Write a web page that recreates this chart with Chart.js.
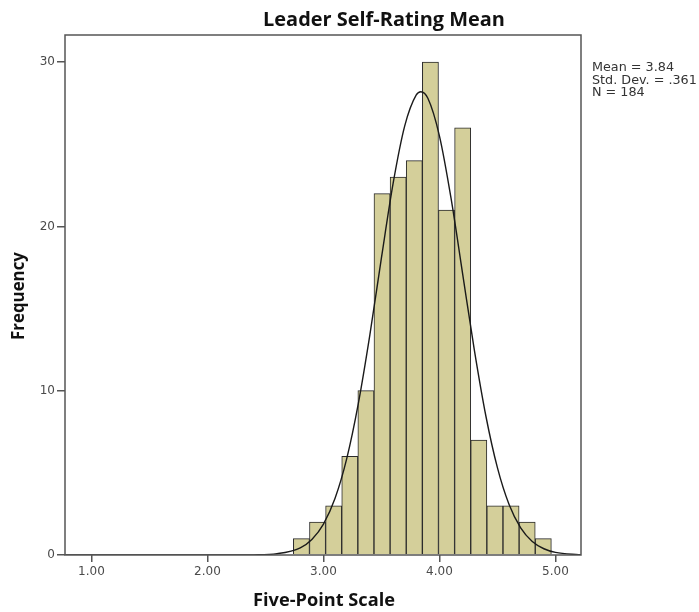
<!DOCTYPE html>
<html>
<head>
<meta charset="utf-8">
<script src="https://cdn.jsdelivr.net/npm/chart.js@4"></script>
<style>
html,body{margin:0;padding:0;background:#fff;}
#wrap{width:699px;height:612px;}
</style>
</head>
<body>
<div id="wrap"><canvas id="c" width="699" height="612"></canvas></div>
<script>
// ---- data ----
const chartTitle = "Leader Self-Rating Mean";
const xTitle = "Five-Point Scale";
const yTitle = "Frequency";
const statsLines = ["Mean = 3.84", "Std. Dev. = .361", "N = 184"];

const binCenters = [2.810, 2.949, 3.088, 3.227, 3.366, 3.505, 3.644, 3.783, 3.922, 4.061, 4.200, 4.339, 4.478, 4.617, 4.756, 4.895];
const binCounts  = [1, 2, 3, 6, 10, 22, 23, 24, 30, 21, 26, 7, 3, 3, 2, 1];

const curveX = [0.772, 2.2, 2.4, 2.6, 2.8, 2.9, 3.0, 3.1, 3.2, 3.3, 3.4, 3.5, 3.6, 3.7, 3.8, 3.84, 3.9, 4.0, 4.1, 4.2, 4.3, 4.4, 4.5, 4.6, 4.7, 4.8, 4.9, 5.0, 5.2, 5.22];
const curveY = [0, 0, 0.01, 0.08, 0.44, 0.95, 1.88, 3.45, 5.85, 9.2, 13.4, 18.1, 22.6, 26.1, 28.0, 28.2, 27.8, 25.5, 21.7, 17.1, 12.5, 8.46, 5.3, 3.07, 1.65, 0.82, 0.38, 0.16, 0.02, 0.01];

const xTicks = [1, 2, 3, 4, 5];
const yTicks = [0, 10, 20, 30];

// ---- chart ----
function fitFont(ctx, text, width, weight, family) {
  ctx.font = weight + ' 20px ' + family;
  const w = ctx.measureText(text).width;
  const size = 20 * width / w;
  ctx.font = weight + ' ' + size.toFixed(2) + 'px ' + family;
}

const decorPlugin = {
  id: 'decor',
  afterDraw(chart) {
    const ctx = chart.ctx, a = chart.chartArea;
    ctx.save();
    ctx.strokeStyle = '#555';
    ctx.lineWidth = 1.5;
    ctx.strokeRect(a.left, a.top, a.right - a.left, a.bottom - a.top);
    ctx.fillStyle = '#111';
    ctx.textAlign = 'center';
    ctx.textBaseline = 'middle';
    fitFont(ctx, chartTitle, 242, 'bold', '"Open Sans"');
    ctx.fillText(chartTitle, 384, 20);
    fitFont(ctx, xTitle, 142, 'bold', '"Open Sans"');
    ctx.fillText(xTitle, 324, 601);
    fitFont(ctx, yTitle, 88, 'bold', '"Open Sans"');
    ctx.save();
    ctx.translate(19, 296);
    ctx.rotate(-Math.PI / 2);
    ctx.fillText(yTitle, 0, 0);
    ctx.restore();
    ctx.fillStyle = '#333';
    ctx.textAlign = 'left';
    fitFont(ctx, statsLines[1], 105, 'normal', '"DejaVu Sans"');
    statsLines.forEach((t, i) => ctx.fillText(t, 592, 68 + i * 12.5));
    ctx.restore();
  }
};

new Chart(document.getElementById('c'), {
  type: 'bar',
  data: {
    datasets: [
      {
        type: 'line',
        order: 0,
        data: curveX.map((x, i) => ({x: x, y: curveY[i]})),
        borderColor: '#1a1a1a',
        borderWidth: 1.4,
        pointRadius: 0,
        cubicInterpolationMode: 'monotone',
        fill: false
      },
      {
        type: 'bar',
        order: 1,
        data: binCenters.map((x, i) => ({x: x, y: binCounts[i]})),
        backgroundColor: '#d4cf9a',
        borderColor: '#2a2a2a',
        borderWidth: 1,
        barPercentage: 1,
        categoryPercentage: 1,
        grouped: false
      }
    ]
  },
  options: {
    responsive: false,
    animation: false,
    events: [],
    layout: {padding: {left: 0, right: 118, top: 35, bottom: 0}},
    plugins: {legend: {display: false}, title: {display: false}, tooltip: {enabled: false}},
    scales: {
      x: {
        type: 'linear',
        offset: false,
        min: 0.772,
        max: 5.22,
        afterBuildTicks(s) { s.ticks = xTicks.map(v => ({value: v})); },
        afterFit(s) { s.height = 57; },
        border: {display: false},
        grid: {display: true, offset: false, drawOnChartArea: false, drawTicks: true, tickLength: 7, color: '#555', lineWidth: 1.5},
        ticks: {
          color: '#4a4a4a',
          font: {family: 'DejaVu Sans', size: 12},
          padding: 3,
          maxRotation: 0,
          callback: v => Number(v).toFixed(2)
        }
      },
      y: {
        min: 0,
        max: 31.65,
        afterBuildTicks(s) { s.ticks = yTicks.map(v => ({value: v})); },
        afterFit(s) { s.width = 65; },
        border: {display: false},
        grid: {display: true, drawOnChartArea: false, drawTicks: true, tickLength: 8, color: '#555', lineWidth: 1.5},
        ticks: {
          color: '#4a4a4a',
          font: {family: 'DejaVu Sans', size: 12},
          padding: 2
        }
      }
    }
  },
  plugins: [decorPlugin]
});
</script>
</body>
</html>
